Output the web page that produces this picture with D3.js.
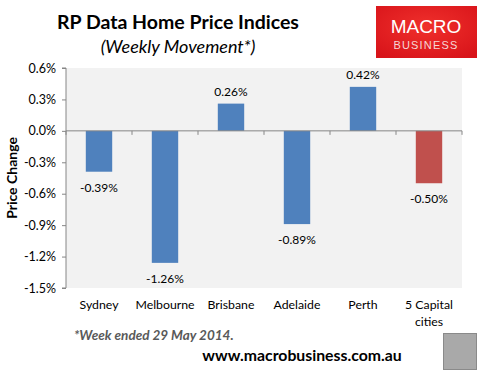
<!DOCTYPE html>
<html>
<head>
<meta charset="utf-8">
<script src="https://cdn.jsdelivr.net/npm/d3@7"></script>
<style>
  body { margin: 0; background: #fff; }
  text { font-family: Lato, "Open Sans", sans-serif; }
</style>
</head>
<body>
<div id="chart"></div>
<script>
const width = 487
const height = 378

const cities = ["Sydney", "Melbourne", "Brisbane", "Adelaide", "Perth", "5 Capital cities"]
const changes = [-0.39, -1.26, 0.26, -0.89, 0.42, -0.50]
const barColors = ["#4f81bd", "#4f81bd", "#4f81bd", "#4f81bd", "#4f81bd", "#c0504d"]
const yTicks = [0.6, 0.3, 0.0, -0.3, -0.6, -0.9, -1.2, -1.5]

const plot = {left: 66, right: 462, top: 68, bottom: 288}

// excel style, plain hyphen for negatives
const pct = (v, p) => d3.format("." + p + "f")(v).replace("\u2212", "-") + "%"

const svg = d3.select("#chart")
              .append("svg")
              .attr("width", width)
              .attr("height", height)

const x = d3.scaleBand()
            .domain(cities)
            .range([plot.left, plot.right])
            .paddingInner(0.6)
            .paddingOuter(0.3)

const y = d3.scaleLinear()
            .domain([-1.5, 0.6])
            .range([plot.bottom, plot.top])

// plot background
svg.append("rect")
   .attr("x", plot.left)
   .attr("y", plot.top)
   .attr("width", plot.right - plot.left)
   .attr("height", plot.bottom - plot.top)
   .attr("fill", "#f2f2f2")

// bars
svg.selectAll(".bar")
   .data(cities)
   .enter()
   .append("rect")
   .attr("class", "bar")
   .attr("x", d => x(d))
   .attr("y", (d, i) => y(Math.max(0, changes[i])))
   .attr("width", x.bandwidth())
   .attr("height", (d, i) => Math.abs(y(changes[i]) - y(0)))
   .attr("fill", (d, i) => barColors[i])

// value labels
svg.selectAll(".val")
   .data(cities)
   .enter()
   .append("text")
   .attr("class", "val")
   .attr("x", d => x(d) + x.bandwidth() / 2)
   .attr("y", (d, i) => changes[i] >= 0 ? y(changes[i]) - 8 : y(changes[i]) + 20)
   .attr("text-anchor", "middle")
   .style("font-size", "12px")
   .style("fill", "#000")
   .text((d, i) => pct(changes[i], 2))

// y axis
const yAxis = svg.append("g")
                 .attr("transform", "translate(" + plot.left + ",0)")
                 .call(d3.axisLeft(y)
                         .tickValues(yTicks)
                         .tickSize(4)
                         .tickPadding(6)
                         .tickFormat(d => pct(d, 1)))
yAxis.select(".domain").attr("stroke", "#868686").attr("d", "M-4," + plot.top + "H0V" + plot.bottom + "H-4")
yAxis.selectAll(".tick line").attr("stroke", "#868686")
yAxis.selectAll(".tick text")
     .style("font-family", "Lato, sans-serif")
     .style("font-size", "12.5px")
     .attr("fill", "#000")

// zero line with category ticks
const xAxis = svg.append("g")
                 .attr("transform", "translate(0," + y(0) + ")")
xAxis.append("line")
     .attr("x1", plot.left)
     .attr("x2", plot.right)
     .attr("stroke", "#868686")
     .attr("stroke-width", 1)
xAxis.selectAll(".xt")
     .data(d3.range(cities.length + 1))
     .enter()
     .append("line")
     .attr("x1", i => plot.left + i * x.step())
     .attr("x2", i => plot.left + i * x.step())
     .attr("y1", 0)
     .attr("y2", 4)
     .attr("stroke", "#868686")

// category labels
svg.selectAll(".cat")
   .data(cities)
   .enter()
   .append("text")
   .attr("class", "cat")
   .attr("text-anchor", "middle")
   .style("font-size", "12.3px")
   .selectAll("tspan")
   .data(d => d === "5 Capital cities" ? ["5 Capital", "cities"] : [d])
   .enter()
   .append("tspan")
   .attr("x", function() { return x(d3.select(this.parentNode).datum()) + x.bandwidth() / 2 })
   .attr("y", (d, i) => 309 + 17 * i)
   .text(d => d)

// y axis title
svg.append("text")
   .attr("transform", "translate(17,178) rotate(-90)")
   .attr("text-anchor", "middle")
   .style("font-size", "14px")
   .style("font-weight", "bold")
   .text("Price Change")

// titles
svg.append("text")
   .attr("x", 178)
   .attr("y", 29)
   .attr("text-anchor", "middle")
   .style("font-size", "19.5px")
   .style("font-weight", "bold")
   .text("RP Data Home Price Indices")

svg.append("text")
   .attr("x", 178)
   .attr("y", 53)
   .attr("text-anchor", "middle")
   .style("font-size", "18px")
   .style("font-style", "italic")
   .text("(Weekly Movement*)")

// logo
const logo = svg.append("g")
const grad = svg.append("defs")
                .append("radialGradient")
                .attr("id", "logoGrad")
                .attr("cx", "50%").attr("cy", "40%").attr("r", "70%")
grad.append("stop").attr("offset", "0%").attr("stop-color", "#f0302c")
grad.append("stop").attr("offset", "100%").attr("stop-color", "#d8141a")
logo.append("rect")
    .attr("x", 376)
    .attr("y", 6)
    .attr("width", 101)
    .attr("height", 52)
    .attr("fill", "url(#logoGrad)")
logo.append("text")
    .attr("x", 426)
    .attr("y", 33)
    .attr("text-anchor", "middle")
    .style("font-family", "'Liberation Sans', Arial, sans-serif")
    .style("font-size", "19px")
    .style("fill", "#fff")
    .text("MACRO")
logo.append("text")
    .attr("x", 426)
    .attr("y", 49)
    .attr("text-anchor", "middle")
    .style("font-family", "'Liberation Sans', Arial, sans-serif")
    .style("font-size", "11px")
    .style("letter-spacing", "1.2px")
    .style("fill", "#f6d6d6")
    .text("BUSINESS")

// footnote
svg.append("text")
   .attr("x", 74)
   .attr("y", 340)
   .style("font-size", "13.5px")
   .style("font-weight", "bold")
   .style("font-style", "italic")
   .style("fill", "#595959")
   .text("*Week ended 29 May 2014.")

svg.append("text")
   .attr("x", 302)
   .attr("y", 361)
   .attr("text-anchor", "middle")
   .style("font-size", "15.8px")
   .style("font-weight", "bold")
   .text("www.macrobusiness.com.au")

// wolf picture placeholder
svg.append("rect")
   .attr("x", 443.5)
   .attr("y", 333.5)
   .attr("width", 33)
   .attr("height", 36)
   .attr("fill", "#a9a9a9")
   .attr("stroke", "#8a8a8a")
</script>
</body>
</html>
